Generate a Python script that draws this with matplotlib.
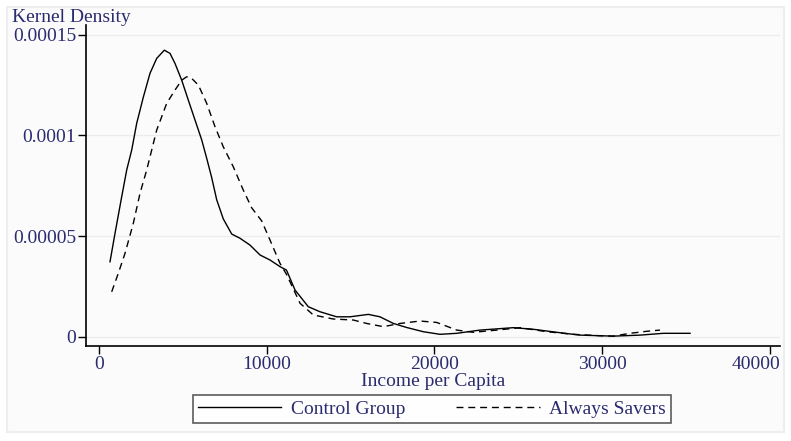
import numpy as np
import matplotlib.pyplot as plt
import matplotlib.transforms as mtransforms
from matplotlib.patches import Rectangle

# kernel density estimates
control_x = [673, 971, 1370, 1669, 1966, 2265, 2660, 3057, 3455, 3910, 4250, 4547,
             4946, 5340, 5740, 6140, 6436, 6734, 7032, 7425, 7926, 8420, 9017, 9613,
             10209, 10805, 11190, 11700, 12490, 13190, 14180, 14980, 16070, 16760,
             17560, 18350, 19340, 20340, 21340, 22720, 24710, 25900, 27490, 28680,
             30670, 32260, 33650, 35240]
control_y = [3.72e-5, 5.13e-5, 6.95e-5, 8.28e-5, 9.27e-5, 1.06e-4, 1.19e-4, 1.308e-4,
             1.382e-4, 1.423e-4, 1.407e-4, 1.357e-4, 1.274e-4, 1.175e-4, 1.076e-4,
             9.77e-5, 8.86e-5, 7.9e-5, 6.8e-5, 5.85e-5, 5.1e-5, 4.89e-5, 4.55e-5,
             4.06e-5, 3.81e-5, 3.48e-5, 3.31e-5, 2.32e-5, 1.49e-5, 1.24e-5, 9.9e-6,
             9.9e-6, 1.11e-5, 9.9e-6, 6.6e-6, 4.6e-6, 2.5e-6, 1.2e-6, 1.7e-6, 3.3e-6,
             4.5e-6, 3.7e-6, 2.0e-6, 8e-7, 3e-7, 8e-7, 1.7e-6, 1.7e-6]

savers_x = [774, 1168, 1567, 2062, 2461, 2860, 3158, 3455, 4052, 4547, 4946, 5244,
            5540, 5937, 6436, 6930, 7425, 8020, 8617, 9118, 9714, 10209, 10805, 11190,
            12000, 12790, 13980, 15170, 15970, 16960, 17960, 19150, 20140, 21340,
            22320, 23720, 25110, 26700, 28280, 29870, 30670, 31660, 32660, 33450]
savers_y = [2.23e-5, 3.15e-5, 4.14e-5, 5.63e-5, 7.12e-5, 8.28e-5, 9.27e-5, 1.026e-4,
            1.159e-4, 1.225e-4, 1.274e-4, 1.291e-4, 1.283e-4, 1.25e-4, 1.159e-4,
            1.043e-4, 9.43e-5, 8.44e-5, 7.28e-5, 6.4e-5, 5.75e-5, 4.8e-5, 3.64e-5,
            3.1e-5, 1.66e-5, 1.08e-5, 8.8e-6, 8.3e-6, 6.6e-6, 5.0e-6, 6.6e-6, 7.8e-6,
            7.1e-6, 3.3e-6, 2.2e-6, 3.3e-6, 4.5e-6, 2.5e-6, 1.2e-6, 5e-7, 3e-7,
            1.7e-6, 2.7e-6, 3.3e-6]

xticks = [0, 10000, 20000, 30000, 40000]
yticks = [0, 0.00005, 0.0001, 0.00015]
ytick_labels = ["0", "0.00005", "0.0001", "0.00015"]

navy = '#2b2b70'
fs = 14
plt.rcParams['font.family'] = ['Liberation Serif', 'DejaVu Serif']

fig = plt.figure(figsize=(7.91, 4.41), dpi=100)
fig.patch.set_facecolor('white')
fig.patches.append(Rectangle((7/791, 0.02), 1 - 14/791, 0.965, transform=fig.transFigure,
                             facecolor='#fbfbfb', edgecolor='#eeeeee', lw=1.5, zorder=-5))

ax = fig.add_axes([86/791, 95/441, 694/791, 321/441])
ax.set_zorder(2)
ax.set_facecolor('none')

l1, = ax.plot(control_x, control_y, color='black', lw=1.0, label='Control Group')
l2, = ax.plot(savers_x, savers_y, color='black', lw=1.0, dashes=(5, 3.5),
              label='Always Savers')

ax.set_xlim(-757, 40600)
ax.set_ylim(-4.6e-6, 1.548e-4)
ax.set_xticks(xticks)
ax.set_xticklabels([str(v) for v in xticks])
ax.set_yticks(yticks)
ax.set_yticklabels(ytick_labels)
ax.tick_params(colors='black', labelcolor=navy, labelsize=fs, length=6, width=1, pad=1)
ax.grid(axis='y', color='#ececec', lw=1)
ax.set_axisbelow(True)

# keep the last x label inside the figure, as in the original
last = ax.get_xticklabels()[-1]
last.set_transform(last.get_transform() +
                   mtransforms.ScaledTranslation(-14/100, 0, fig.dpi_scale_trans))

for s in ['top', 'right']:
    ax.spines[s].set_visible(False)
for s in ['left', 'bottom']:
    ax.spines[s].set_linewidth(1.2)

ax.set_xlabel('Income per Capita', color=navy, fontsize=fs, labelpad=0)
fig.text(12/791, 1 - 17/441, 'Kernel Density', color=navy, fontsize=fs,
         ha='left', va='center')

leg = fig.legend(handles=[l1, l2], loc='center', bbox_to_anchor=(432/791, 1 - 409/441),
                 ncol=2, frameon=True, fancybox=False, fontsize=fs,
                 handlelength=4.3, handletextpad=0.5, columnspacing=2.6,
                 borderpad=0.25, borderaxespad=0)
leg.get_frame().set_edgecolor('#333333')
leg.get_frame().set_linewidth(1.2)
for t in leg.get_texts():
    t.set_color(navy)

fig.savefig('out.png', dpi=100)
